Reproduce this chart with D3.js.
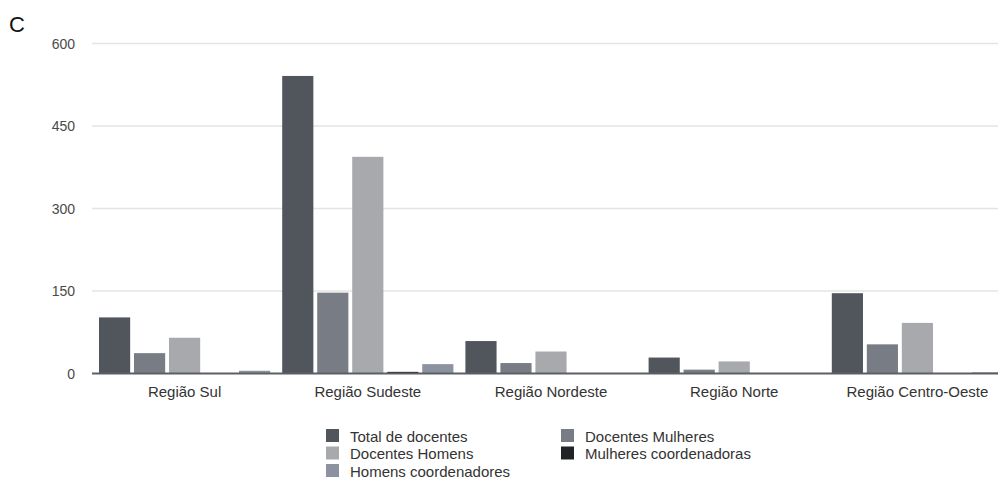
<!DOCTYPE html>
<html>
<head>
<meta charset="utf-8">
<script src="https://cdn.jsdelivr.net/npm/d3@7"></script>
<style>
  html, body { margin: 0; padding: 0; background: #fff; }
  svg { display: block; }
  text { font-family: "Liberation Sans", Arial, Helvetica, sans-serif; }
</style>
</head>
<body>
<svg id="chart" width="998" height="482"></svg>
<script>
// Regions and series
const regions = ["Região Sul", "Região Sudeste", "Região Nordeste", "Região Norte", "Região Centro-Oeste"];
const seriesNames = ["Total de docentes", "Docentes Mulheres", "Docentes Homens", "Mulheres coordenadoras", "Homens coordenadores"];
const seriesColors = ["#51555c", "#777c85", "#a7a9ad", "#222326", "#8c92a0"];

// Values per series, in region order
const totalDocentes = [102, 541, 59, 29, 146];
const docentesMulheres = [37, 147, 19, 7, 53];
const docentesHomens = [65, 394, 40, 22, 92];
const mulheresCoordenadoras = [0, 3, 0, 0, 0];
const homensCoordenadores = [5, 17, 0, 0, 2];

const yTicks = [0, 150, 300, 450, 600];

const seriesValues = [totalDocentes, docentesMulheres, docentesHomens, mulheresCoordenadoras, homensCoordenadores];

const svg = d3.select("#chart");
const W = 998;

const plotLeft = 92, plotRight = 998;
const y = d3.scaleLinear().domain([0, 600]).range([373.5, 43.5]);

const x0 = d3.scaleBand().domain(regions).range([93, 1009]).padding(0);
const x1 = d3.scaleBand().domain(seriesNames).range([6, x0.bandwidth() - 6]).paddingInner(0.11).paddingOuter(0);

// Panel letter
svg.append("text")
  .attr("x", 9).attr("y", 32)
  .attr("font-size", 22)
  .attr("font-family", "'Open Sans', sans-serif")
  .attr("font-weight", 300)
  .attr("fill", "#111")
  .text("C");

// Gridlines
svg.append("g")
  .selectAll("line")
  .data(yTicks.filter(d => d > 0))
  .join("line")
  .attr("x1", plotLeft).attr("x2", plotRight)
  .attr("y1", d => y(d)).attr("y2", d => y(d))
  .attr("stroke", "#e4e4e4")
  .attr("stroke-width", 1.5);

// Y axis labels
const yAxis = d3.axisLeft(y).tickValues(yTicks).tickSize(0).tickPadding(0);
const gy = svg.append("g").attr("transform", "translate(75,0)").call(yAxis);
gy.select(".domain").remove();
gy.selectAll("text")
  .attr("font-size", 14)
  .attr("font-family", "'Liberation Sans', Arial, sans-serif")
  .attr("fill", "#4a4a4a")
  .attr("dy", "0.35em");

// Bars
const groups = svg.append("g")
  .selectAll("g")
  .data(regions.map((r, i) => ({ region: r, i })))
  .join("g")
  .attr("transform", d => `translate(${x0(d.region)},0)`);

groups.selectAll("rect")
  .data(d => seriesNames.map((s, k) => ({ series: s, k, value: seriesValues[k][d.i] })))
  .join("rect")
  .attr("x", d => x1(d.series))
  .attr("width", x1.bandwidth())
  .attr("y", d => y(d.value))
  .attr("height", d => y(0) - y(d.value))
  .attr("fill", d => seriesColors[d.k]);

// Baseline
svg.append("line")
  .attr("x1", plotLeft).attr("x2", plotRight)
  .attr("y1", y(0)).attr("y2", y(0))
  .attr("stroke", "#5c5f64")
  .attr("stroke-width", 2);

// Category labels
const xAxis = d3.axisBottom(x0).tickSize(0).tickPadding(0);
const gx = svg.append("g").attr("transform", `translate(0,${y(0)})`).call(xAxis);
gx.select(".domain").remove();
gx.selectAll("text")
  .attr("y", 23.5)
  .attr("dy", 0)
  .attr("font-size", 15)
  .attr("font-family", "'Liberation Sans', Arial, sans-serif")
  .attr("fill", "#333");

// Legend: two columns, filled row by row
const legendCols = [326, 561];
const legendRowY = [441.5, 459, 476.5];
const legend = svg.append("g")
  .selectAll("g")
  .data(seriesNames.map((s, k) => ({ s, k })))
  .join("g")
  .attr("transform", d => `translate(${legendCols[d.k % 2]},${legendRowY[Math.floor(d.k / 2)]})`);

legend.append("rect")
  .attr("x", 0).attr("y", -12.5)
  .attr("width", 13).attr("height", 13)
  .attr("fill", d => seriesColors[d.k]);

legend.append("text")
  .attr("x", 24).attr("y", 0)
  .attr("font-size", 15)
  .attr("fill", "#333")
  .text(d => d.s);
</script>
</body>
</html>
